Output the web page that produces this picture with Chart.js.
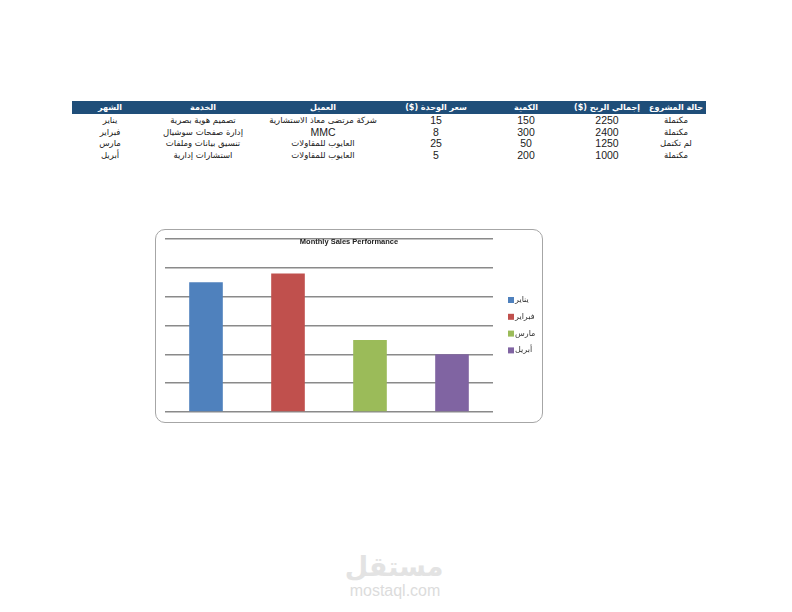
<!DOCTYPE html>
<html>
<head>
<meta charset="utf-8">
<script src="https://cdn.jsdelivr.net/npm/chart.js@4"></script>
<style>
  body { margin: 0; width: 792px; height: 612px; background: #fff; position: relative; overflow: hidden; font-family: "DejaVu Sans", sans-serif; }
  #hdr { position: absolute; left: 72px; top: 101px; width: 634px; height: 13px; background: #1f4e79; }
  .cell { position: absolute; transform: translateX(-50%); white-space: nowrap; font-size: 8.5px; line-height: 12px; color: #222; direction: rtl; }
  .head { color: #fff; font-weight: bold; font-size: 8px; }
  .num { font-family: "Liberation Sans", sans-serif; font-size: 10.5px; }
  #box { position: absolute; left: 155px; top: 229px; width: 386px; height: 192px; border: 1px solid #a6a6a6; border-radius: 10px; }
  #wrap { position: absolute; left: 155px; top: 229px; width: 388px; height: 194px; }
  #wm1 { position: absolute; left: 394px; top: 551px; transform: translateX(-50%); font-size: 27px; font-weight: bold; color: #e3e3e3; font-family: "DejaVu Sans", sans-serif; }
  #wm2 { position: absolute; left: 395px; top: 582px; transform: translateX(-50%); font-size: 16px; color: #dcdcdc; font-family: "Liberation Sans", sans-serif; }
</style>
</head>
<body>
<div id="hdr"></div>
<div id="table"></div>
<div id="box"></div>
<div id="wrap"><canvas id="sales" width="388" height="194"></canvas></div>
<div id="wm1">مستقل</div>
<div id="wm2">mostaql.com</div>
<script>
// table data (right-to-left columns in the sheet)
const headers = ['الشهر', 'الخدمة', 'العميل', 'سعر الوحدة ($)', 'الكمية', 'إجمالي الربح ($)', 'حالة المشروع'];
const months = ['يناير', 'فبراير', 'مارس', 'أبريل'];
const services = ['تصميم هوية بصرية', 'إدارة صفحات سوشيال', 'تنسيق بيانات وملفات', 'استشارات إدارية'];
const clients = ['شركة مرتضى معاذ الاستشارية', 'MMC', 'العايوب للمقاولات', 'العايوب للمقاولات'];
const unitPrice = [15, 8, 25, 5];
const quantity = [150, 300, 50, 200];
const totalProfit = [2250, 2400, 1250, 1000];
const status = ['مكتملة', 'مكتملة', 'لم تكتمل', 'مكتملة'];

const colX = [110, 203, 323, 436, 526, 607, 676];
const rowY = [114, 125.5, 137, 148.5];
const barColors = ['#4f81bd', '#c0504d', '#9bbb59', '#8064a2'];

const table = document.getElementById('table');
function addCell(text, x, y, cls) {
  const d = document.createElement('div');
  d.className = 'cell ' + (cls || '');
  d.textContent = text;
  d.style.left = x + 'px';
  d.style.top = y + 'px';
  table.appendChild(d);
}
headers.forEach((h, i) => addCell(h, colX[i], 101.5, 'head'));
const columns = [months, services, clients, unitPrice, quantity, totalProfit, status];
columns.forEach((col, c) => {
  col.forEach((v, r) => {
    const isNum = typeof v === 'number' || v === 'MMC';
    addCell(String(v), colX[c], rowY[r], isNum ? 'num' : '');
  });
});

// title and legend drawn on the canvas, Excel style
const excelExtras = {
  id: 'excelExtras',
  afterDraw(chart) {
    const ctx = chart.ctx;
    ctx.save();
    ctx.fillStyle = '#222';
    ctx.font = 'bold 7.5px "Liberation Sans", sans-serif';
    ctx.textAlign = 'center';
    ctx.textBaseline = 'middle';
    ctx.fillText('Monthly Sales Performance', chart.width / 2, 12.5);

    ctx.font = '8px "DejaVu Sans", sans-serif';
    ctx.textAlign = 'left';
    chart.data.labels.forEach((lbl, i) => {
      const y = 71 + i * 16.8;
      ctx.fillStyle = barColors[i];
      ctx.fillRect(353, y - 3, 6, 6);
      ctx.fillStyle = '#333';
      ctx.fillText(lbl, 360, y);
    });
    ctx.restore();
  }
};

new Chart(document.getElementById('sales').getContext('2d'), {
  type: 'bar',
  data: {
    labels: months,
    datasets: [{
      label: 'Total Profit',
      data: totalProfit,
      backgroundColor: barColors,
      borderWidth: 0,
      categoryPercentage: 1,
      barPercentage: 0.41
    }]
  },
  options: {
    responsive: false,
    animation: false,
    layout: { padding: { left: 10, right: 50, top: 10, bottom: 11 } },
    scales: {
      x: { display: false },
      y: {
        min: 0,
        max: 3000,
        ticks: { display: false, stepSize: 500 },
        border: { display: false },
        grid: { color: '#8a8a8a', lineWidth: 1.5, drawTicks: false }
      }
    },
    plugins: {
      legend: { display: false },
      title: { display: false },
      tooltip: { enabled: false }
    }
  },
  plugins: [excelExtras]
});
</script>
</body>
</html>
